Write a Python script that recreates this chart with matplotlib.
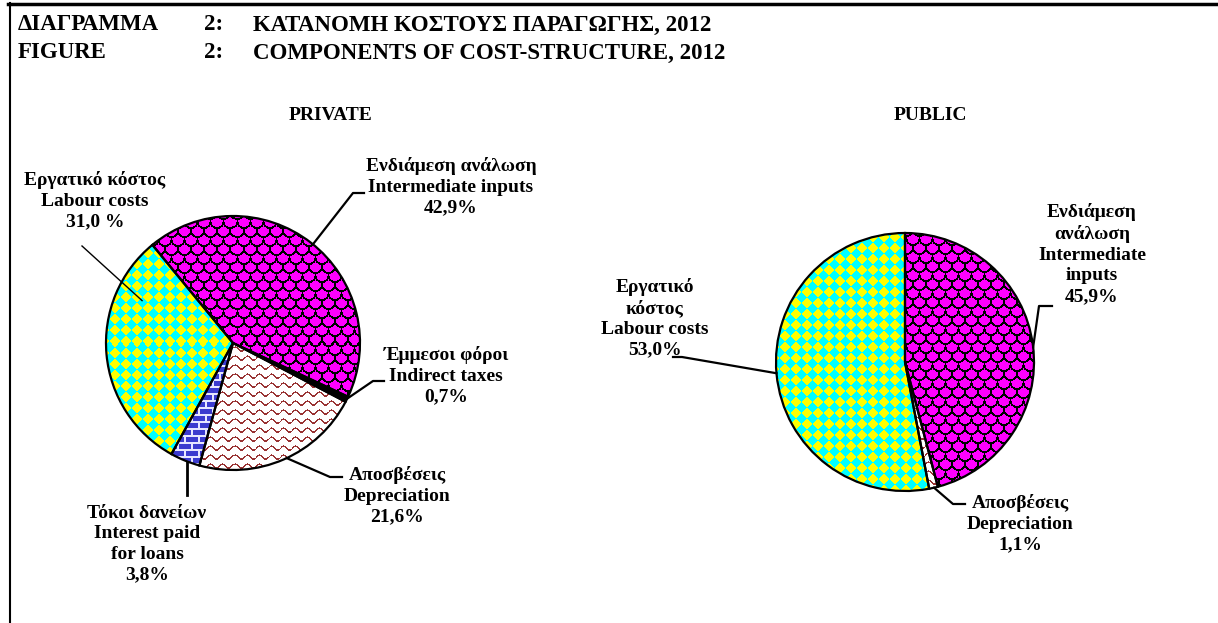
import numpy as np
import matplotlib
matplotlib.use("Agg")
import matplotlib.pyplot as plt
from matplotlib.lines import Line2D

plt.rcParams['font.family'] = ['Liberation Serif', 'DejaVu Serif']
plt.rcParams['font.weight'] = 'bold'

# ---- data ----
private_names = ["Ενδιάμεση ανάλωση\nIntermediate inputs",
                 "Έμμεσοι φόροι\nIndirect taxes",
                 "Αποσβέσεις\nDepreciation",
                 "Τόκοι δανείων\nInterest paid\nfor loans",
                 "Εργατικό κόστος\nLabour costs"]
private_share = [42.9, 0.7, 21.6, 3.8, 31.0]
private_pct_sep = ["", "", "", "", " "]

public_names = ["Ενδιάμεση\nανάλωση\nIntermediate\ninputs",
                "Αποσβέσεις\nDepreciation",
                "Εργατικό\nκόστος\nLabour costs"]
public_share = [45.9, 1.1, 53.0]
public_pct_sep = ["", "", ""]

title_gr = ["ΔΙΑΓΡΑΜΜΑ", "2:", "ΚΑΤΑΝΟΜΗ ΚΟΣΤΟΥΣ ΠΑΡΑΓΩΓΗΣ, 2012"]
title_en = ["FIGURE", "2:", "COMPONENTS OF COST-STRUCTURE, 2012"]

W, H = 1218, 623
fig = plt.figure(figsize=(W / 100, H / 100), dpi=100)


def fx(x):
    return x / W


def fy(y):
    return 1 - y / H


# ---- fill patterns (textures, in screen pixels) ----
def hexrgb(c):
    return np.array(matplotlib.colors.to_rgb(c))


def pattern(kind, n):
    Y, X = np.mgrid[0:n, 0:n].astype(float)
    img = np.ones((n, n, 3))
    if kind == 'check':
        s = 11
        m = (np.floor((X + Y) / s) + np.floor((X - Y) / s)) % 2 == 0
        img[:] = hexrgb('#FFFF00')
        img[m] = hexrgb('#00FFFF')
    elif kind == 'scale':
        w, h, r = 13, 9, 6.5
        j = np.floor(Y / h)
        off = (j % 2) * w / 2
        lx = ((X - off) % w) - w / 2
        ly = Y - j * h
        d = np.hypot(lx, ly)
        img[:] = hexrgb('#FF00FF')
        img[np.abs(d - r) < 1.0] = 0
        img[(np.abs(lx) < 0.8) & (ly > r)] = 0
    elif kind == 'wave':
        p, L, A = 9, 12, 2.0
        ph = (Y - A * np.sin(2 * np.pi * X / L)) % p
        img[:] = 1
        img[ph < 1.6] = hexrgb('#993333')
    elif kind == 'brick':
        h, w = 7, 14
        j = np.floor(Y / h)
        m = (Y % h < 1.5) | (((X + (j % 2) * w / 2) % w) < 1.5)
        img[:] = hexrgb('#3B3BCF')
        img[m] = hexrgb('#E6E6FF')
    elif kind == 'black':
        img[:] = 0
    return img


def draw_pie(cx, cy, R, shares, kinds, start):
    lim = 1.1
    ax = fig.add_axes([fx(cx - lim * R), fy(cy + lim * R), 2 * lim * R / W, 2 * lim * R / H])
    wedges, _ = ax.pie(shares, startangle=start, counterclock=False, radius=1,
                       wedgeprops=dict(facecolor='none', edgecolor='black', linewidth=1.6))
    n = int(round(2 * lim * R))
    for wdg, k in zip(wedges, kinds):
        im = ax.imshow(pattern(k, n), extent=(-lim, lim, -lim, lim), origin='upper',
                       interpolation='nearest', zorder=0)
        im.set_clip_path(wdg)
    ax.set_xlim(-lim, lim)
    ax.set_ylim(-lim, lim)
    ax.set_aspect('equal')
    ax.axis('off')
    return ax


def label(cx, cy, R, name, value, sep, tx, ty, ang, rf, path, lw=1.5):
    txt = name + "\n" + f"{value:.1f}".replace('.', ',') + sep + "%"
    fig.text(fx(tx), fy(ty), txt, ha='center', va='center', multialignment='center',
             fontsize=14, fontweight='bold', linespacing=1.28)
    a = np.deg2rad(ang)
    pts = [(cx + rf * R * np.cos(a), cy - rf * R * np.sin(a))] + path
    xs = [fx(p[0]) for p in pts]
    ys = [fy(p[1]) for p in pts]
    fig.add_artist(Line2D(xs, ys, color='black', lw=lw))


# ---- PRIVATE ----
pcx, pcy, pR = 233, 343, 127
draw_pie(pcx, pcy, pR, private_share, ['scale', 'black', 'wave', 'brick', 'check'], 129.4)
fig.text(fx(331), fy(116), "PRIVATE", ha='center', va='center', fontsize=14, fontweight='bold')

priv_layout = [
    (451, 187, 51, 1.0, [(353, 193), (364, 193)], 1.6),
    (446, 376, -26, 1.0, [(373, 381), (384, 381)], 1.6),
    (397, 496, -65, 1.0, [(330, 477), (342, 477)], 1.6),
    (147, 544, -111, 1.0, [(188, 495)], 2.0),
    (95, 201, 155, 0.79, [(82, 246)], 1.0),
]
for nm, v, sp, lay in zip(private_names, private_share, private_pct_sep, priv_layout):
    tx, ty, ang, rf, path, lw = lay
    if len(path) == 1 and ang == -111:
        a = np.deg2rad(ang)
        path = [(pcx + pR * np.cos(a), path[0][1])]
    label(pcx, pcy, pR, nm, v, sp, tx, ty, ang, rf, path, lw)

# ---- PUBLIC ----
qcx, qcy, qR = 905, 362, 129
draw_pie(qcx, qcy, qR, public_share, ['scale', 'wave', 'check'], 90)
fig.text(fx(930), fy(116), "PUBLIC", ha='center', va='center', fontsize=14, fontweight='bold')

pub_layout = [
    (1092, 254, 6.6, 1.0, [(1039, 306), (1052, 306)], 1.6),
    (1020, 524, -77, 1.0, [(953, 504), (965, 504)], 1.6),
    (655, 318, 185, 1.0, [(682, 357), (673, 357)], 1.6),
]
for nm, v, sp, lay in zip(public_names, public_share, public_pct_sep, pub_layout):
    tx, ty, ang, rf, path, lw = lay
    label(qcx, qcy, qR, nm, v, sp, tx, ty, ang, rf, path, lw)

# ---- title ----
for row, yy in ((title_gr, 25), (title_en, 53)):
    for t, xx in zip(row, (18, 204, 253)):
        fig.text(fx(xx), fy(yy), t, ha='left', va='center', fontsize=16.5, fontweight='bold')

# frame (top and left borders)
fig.add_artist(Line2D([fx(8), fx(W)], [fy(4), fy(4)], color='black', lw=2.5))
fig.add_artist(Line2D([fx(9.5), fx(9.5)], [fy(3), fy(H)], color='black', lw=1.5))

fig.savefig("out.png", dpi=100, facecolor='white')
